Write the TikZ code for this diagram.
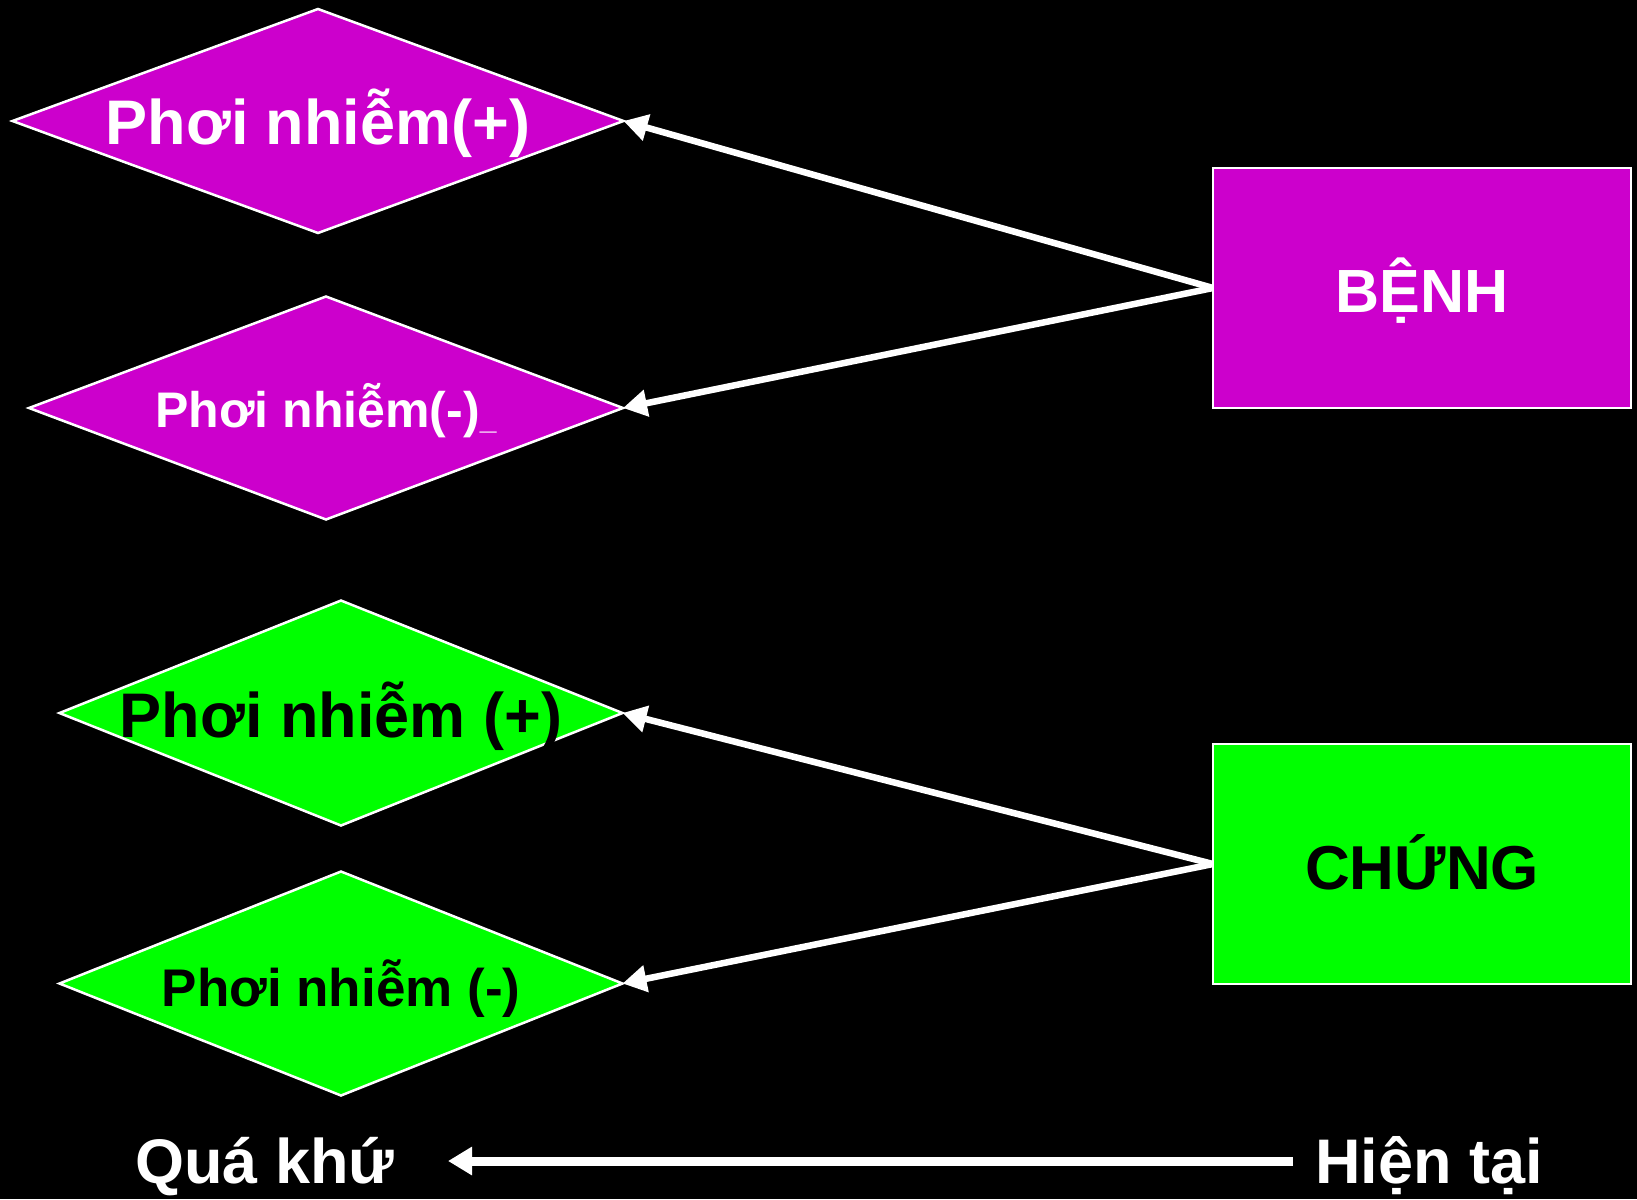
\documentclass[tikz,border=0pt]{standalone}
\usepackage{fontspec}
\setmainfont{Liberation Sans}
\usetikzlibrary{shapes.geometric,arrows.meta}
\definecolor{mag}{HTML}{CC00CC}
\definecolor{grn}{HTML}{00FF00}
\newcommand{\dtext}[3]{\smash{\makebox[0pt]{\raisebox{#1}{\fontsize{#2}{#2}\selectfont\bfseries #3}}}}
\begin{document}
\begin{tikzpicture}[x=1pt,y=-1pt,
  dia/.style={diamond, draw=white, line width=2.5pt, inner sep=0pt, outer sep=0pt},
  boxnode/.style={rectangle, draw=white, line width=2.5pt, inner sep=0pt, outer sep=0pt,
    minimum width=418pt, minimum height=240pt},
  link/.style={draw=white, line width=6.5pt, -{Triangle[length=24pt,width=26pt]}},
  timearrow/.style={draw=white, line width=9pt, -{Triangle[length=24pt,width=27pt]}},
  timetext/.style={anchor=base, text=white, inner sep=0pt, font=\fontsize{63}{63}\selectfont\bfseries}]
\fill[black] (0,0) rectangle (1637,1199);
\useasboundingbox (0,0) rectangle (1637,1199);

\node[dia, fill=mag, text=white, minimum width=611pt, minimum height=224pt] (p1) at (318,121)
  {\dtext{-23pt}{63}{Phơi nhiễm(+)}};
\node[dia, fill=mag, text=white, minimum width=594pt, minimum height=223pt] (p2) at (326,408)
  {\dtext{-19pt}{50}{Phơi nhiễm(-)\raisebox{-2pt}{\fontsize{30}{30}\selectfont\_}}};
\node[dia, fill=grn, text=black, minimum width=563pt, minimum height=225pt] (p3) at (341,713)
  {\dtext{-24pt}{63}{Phơi nhiễm (+)}};
\node[dia, fill=grn, text=black, minimum width=563pt, minimum height=224pt] (p4) at (341,983.5)
  {\dtext{-22.5pt}{53}{Phơi nhiễm (-)}};

\node[boxnode, fill=mag, text=white] (benh) at (1422,288) {\dtext{-24pt}{61}{BỆNH}};
\node[boxnode, fill=grn, text=black] (chung) at (1422,864) {\dtext{-25pt}{62}{CHỨNG}};

\draw[link] (benh.west) -- (p1.east);
\draw[link] (benh.west) -- (p2.east);
\draw[link] (chung.west) -- (p3.east);
\draw[link] (chung.west) -- (p4.east);

\node[timetext] (qua) at (265,1183) {Quá khứ};
\node[timetext] (hien) at (1429,1183) {Hiện tại};
\coordinate (nowpt) at (1293,1161);
\coordinate (pastpt) at (448,1161);
\draw[timearrow] (nowpt) -- (pastpt);
\end{tikzpicture}
\end{document}
